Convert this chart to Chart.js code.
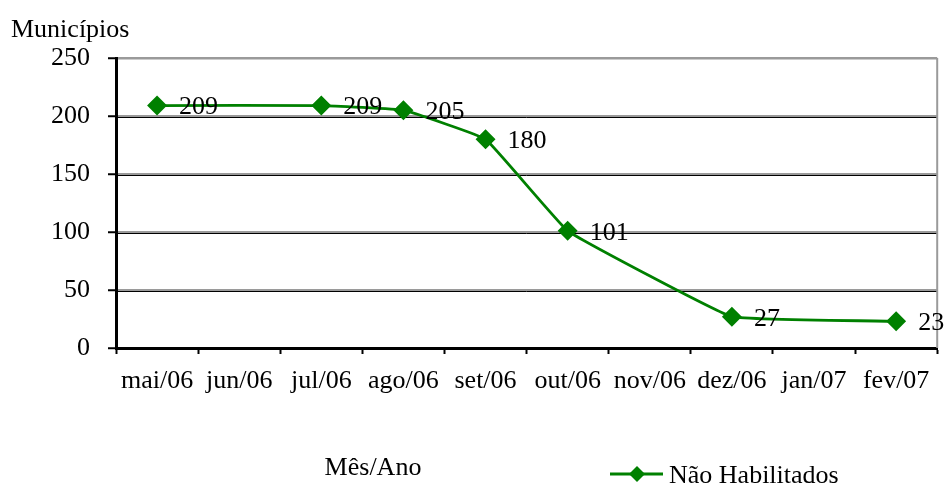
<!DOCTYPE html>
<html lang="pt">
<head>
<meta charset="utf-8">
<script src="https://cdn.jsdelivr.net/npm/chart.js@4"></script>
<style>
  html, body { margin: 0; padding: 0; background: #fff; }
  #wrap { width: 948px; height: 486px; position: relative; }
</style>
</head>
<body>
<div id="wrap"><canvas id="c"></canvas></div>
<script>
// Meses do período
const categories = ['mai/06', 'jun/06', 'jul/06', 'ago/06', 'set/06', 'out/06', 'nov/06', 'dez/06', 'jan/07', 'fev/07'];
// Municípios não habilitados (sem registro nos meses vazios)
const naoHabilitados = [209, null, 209, 205, 180, 101, null, 27, null, 23];
const seriesName = 'Não Habilitados';
const yTicks = [0, 50, 100, 150, 200, 250];
const yAxisTitle = 'Municípios';
const xAxisTitle = 'Mês/Ano';

const FONT = '"Liberation Serif", "Times New Roman", serif';
const GREEN = '#008000';

// Rótulos de valor ao lado de cada ponto
const valueLabels = {
  id: 'valueLabels',
  afterDatasetsDraw(chart) {
    const ctx = chart.ctx;
    const meta = chart.getDatasetMeta(0);
    const data = chart.data.datasets[0].data;
    ctx.save();
    ctx.font = '26px ' + FONT;
    ctx.fillStyle = '#000';
    ctx.textAlign = 'left';
    ctx.textBaseline = 'middle';
    meta.data.forEach((pt, i) => {
      if (data[i] === null) return;
      ctx.fillText(String(data[i]), pt.x + 22, pt.y + 2);
    });
    ctx.restore();
  }
};

// Linhas escuras das grades, borda direita, títulos e legenda
const decorations = {
  id: 'decorations',
  beforeDatasetsDraw(chart) {
    const ctx = chart.ctx;
    const a = chart.chartArea;
    const y = chart.scales.y;
    ctx.save();
    ctx.strokeStyle = '#000';
    ctx.lineWidth = 1;
    yTicks.forEach(v => {
      if (v === 0 || v === 250) return;
      const py = Math.round(y.getPixelForValue(v)) + 1.5;
      ctx.beginPath();
      ctx.moveTo(a.left, py);
      ctx.lineTo(a.right, py);
      ctx.stroke();
    });
    ctx.strokeStyle = '#9a9a9a';
    ctx.lineWidth = 2;
    ctx.beginPath();
    ctx.moveTo(a.right, a.top);
    ctx.lineTo(a.right, a.bottom);
    ctx.stroke();
    ctx.restore();
  },
  afterDraw(chart) {
    const ctx = chart.ctx;
    ctx.save();
    ctx.fillStyle = '#000';
    ctx.font = '26px ' + FONT;
    ctx.textBaseline = 'alphabetic';
    ctx.textAlign = 'left';
    ctx.fillText(yAxisTitle, 11, 37);
    ctx.textAlign = 'center';
    ctx.fillText(xAxisTitle, 373, 475);
    // legenda
    ctx.strokeStyle = GREEN;
    ctx.lineWidth = 3;
    ctx.beginPath();
    ctx.moveTo(610, 474);
    ctx.lineTo(663, 474);
    ctx.stroke();
    ctx.fillStyle = GREEN;
    ctx.beginPath();
    ctx.moveTo(637, 466);
    ctx.lineTo(645, 474);
    ctx.lineTo(637, 482);
    ctx.lineTo(629, 474);
    ctx.closePath();
    ctx.fill();
    ctx.fillStyle = '#000';
    ctx.textAlign = 'left';
    ctx.fillText(seriesName, 669, 483);
    ctx.restore();
  }
};

new Chart(document.getElementById('c'), {
  type: 'line',
  data: {
    labels: categories,
    datasets: [{
      label: seriesName,
      data: naoHabilitados,
      borderColor: GREEN,
      backgroundColor: GREEN,
      borderWidth: 2.8,
      pointStyle: 'rectRot',
      pointRadius: 8,
      pointHoverRadius: 8,
      pointBackgroundColor: GREEN,
      pointBorderColor: GREEN,
      spanGaps: true,
      tension: 0.08
    }]
  },
  options: {
    responsive: true,
    maintainAspectRatio: false,
    animation: false,
    layout: { padding: { top: 58, right: 7, left: 0, bottom: 0 } },
    plugins: {
      legend: { display: false },
      tooltip: { enabled: false },
      title: { display: false }
    },
    scales: {
      x: {
        type: 'category',
        offset: true,
        afterFit(scale) { scale.height = 138; },
        grid: {
          offset: true,
          drawOnChartArea: false,
          drawTicks: true,
          tickLength: 6,
          tickColor: '#000',
          tickWidth: 2
        },
        border: { color: '#000', width: 3 },
        ticks: {
          color: '#000',
          font: { family: FONT, size: 26 },
          padding: 12,
          maxRotation: 0,
          autoSkip: false
        }
      },
      y: {
        min: 0,
        max: 250,
        afterFit(scale) { scale.width = 116; },
        afterBuildTicks(scale) { scale.ticks = yTicks.map(v => ({ value: v })); },
        grid: {
          color: '#9a9a9a',
          lineWidth: 2.5,
          drawTicks: true,
          tickLength: 8,
          tickColor: '#000',
          tickWidth: 2
        },
        border: { color: '#000', width: 3 },
        ticks: {
          color: '#000',
          font: { family: FONT, size: 26 },
          padding: 18
        }
      }
    }
  },
  plugins: [decorations, valueLabels]
});
</script>
</body>
</html>
